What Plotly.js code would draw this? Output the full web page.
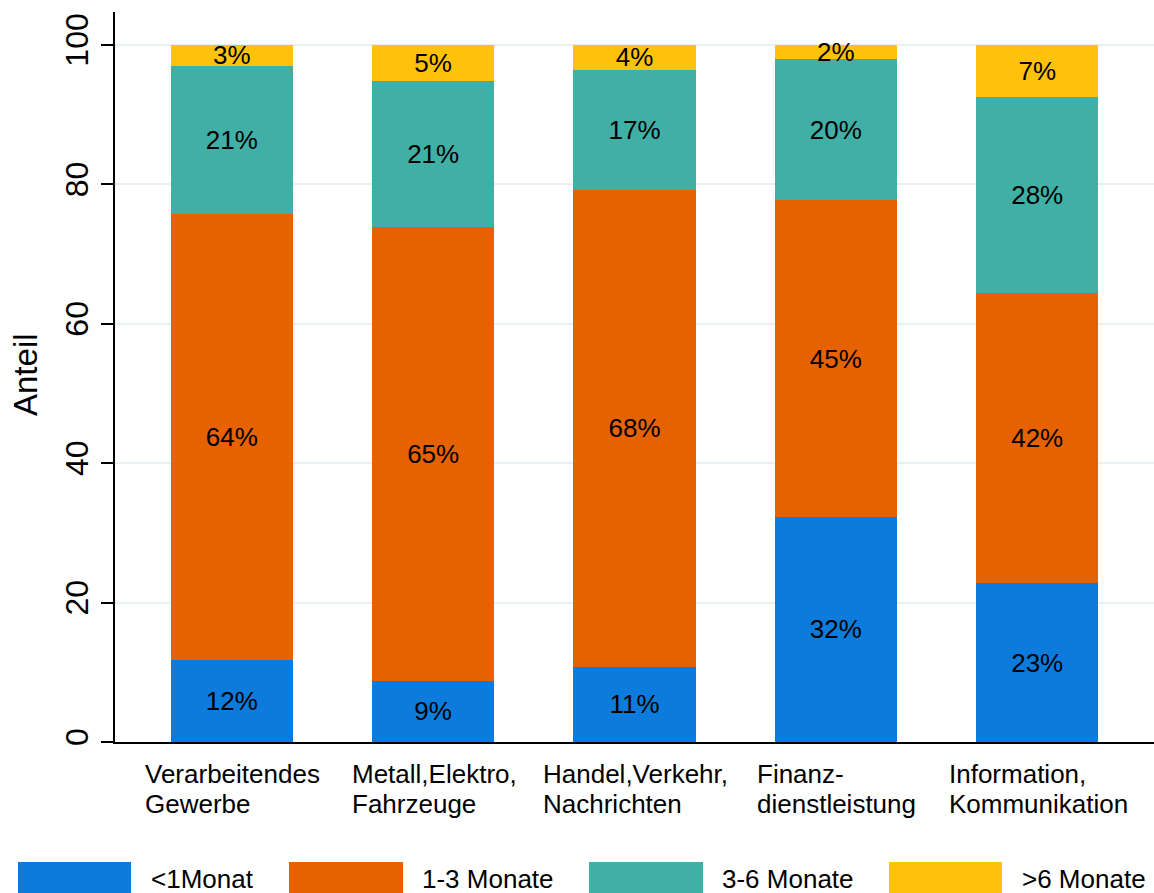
<!DOCTYPE html>
<html>
<head>
<meta charset="utf-8">
<script src="https://cdn.plot.ly/plotly-3.0.1.min.js"></script>
<style>
html,body{margin:0;padding:0;background:#fff;}
#chart{width:1154px;height:893px;}
</style>
</head>
<body>
<div id="chart"></div>
<script>
// Data
var categories = ["Verarbeitendes<br>Gewerbe", "Metall,Elektro,<br>Fahrzeuge", "Handel,Verkehr,<br>Nachrichten", "Finanz-<br>dienstleistung", "Information,<br>Kommunikation"];
var seriesNames = ["<1Monat", "1-3 Monate", "3-6 Monate", ">6 Monate"];
var lt1 = [11.7, 8.8, 10.8, 32.3, 22.8];
var m1to3 = [64.1, 65.1, 68.4, 45.4, 41.6];
var m3to6 = [21.2, 20.9, 17.2, 20.2, 28.1];
var gt6 = [3.0, 5.2, 3.6, 2.0, 7.4];
var yTicks = [0, 20, 40, 60, 80, 100];
var yTitle = "Anteil";

var colors = ["#0C7BDC", "#E66100", "#40B0A6", "#FFC20A"];
var allSeries = [lt1, m1to3, m3to6, gt6];
var FONT = "Liberation Sans, Arial, sans-serif";
var LBL = 26;

var xIdx = categories.map(function(_, i){ return i; });

var traces = allSeries.map(function(vals, s){
  return {
    type: "bar",
    name: seriesNames[s],
    x: xIdx,
    y: vals,
    width: 0.607,
    marker: {color: colors[s], line: {width: 0}},
    text: vals.map(function(v){ return Math.round(v) + "%"; }),
    textposition: "inside",
    insidetextanchor: "middle",
    constraintext: "none",
    textangle: 0,
    insidetextfont: {family: FONT, size: LBL, color: "#000"},
    hoverinfo: "skip",
    showlegend: false
  };
});

// geometry helpers (pixel -> paper) for legend and labels
var L = 115, R = 0, T = 12, B = 151, W = 1154, H = 893;
var pw = W - L - R, ph = H - T - B;
function px(x){ return (x - L) / pw; }
function py(y){ return (H - B - y) / ph; }

// measure text widths so category label lines are left-aligned in a centred block
var cv = document.createElement("canvas").getContext("2d");
cv.font = LBL + "px 'Liberation Sans'";
function tw(s){ return cv.measureText(s).width; }

var annotations = [];
categories.forEach(function(c, i){
  var lines = c.split("<br>");
  var maxW = Math.max.apply(null, lines.map(tw));
  lines.forEach(function(line, k){
    annotations.push({
      xref: "x", yref: "paper", x: i, xshift: -maxW / 2,
      y: py(774 + 30 * k),
      xanchor: "left", yanchor: "middle", align: "left",
      text: line, showarrow: false, borderpad: 0,
      font: {family: FONT, size: LBL, color: "#000"}
    });
  });
});

// y-axis title
annotations.push({
  xref: "paper", yref: "paper", x: px(25), y: py(375),
  xanchor: "center", yanchor: "middle", textangle: -90,
  text: yTitle, showarrow: false, borderpad: 0,
  font: {family: FONT, size: 33, color: "#000"}
});

var legBoxes = [[18,131],[289,403],[589,703],[889,1002]];
var legText = [150, 421, 721, 1021];
var shapes = [];
seriesNames.forEach(function(n, s){
  shapes.push({
    type: "rect", xref: "paper", yref: "paper",
    x0: px(legBoxes[s][0]), x1: px(legBoxes[s][1]),
    y0: py(862), y1: py(900),
    fillcolor: colors[s], line: {width: 0}, layer: "above"
  });
  annotations.push({
    xref: "paper", yref: "paper", x: px(legText[s]), y: py(879),
    xanchor: "left", yanchor: "middle", borderpad: 0,
    text: n.replace("<", "&lt;").replace(">", "&gt;"), showarrow: false,
    font: {family: FONT, size: LBL, color: "#000"}
  });
});

var layout = {
  width: W, height: H,
  margin: {l: L, r: R, t: T, b: B, pad: 0},
  paper_bgcolor: "#fff", plot_bgcolor: "#fff",
  barmode: "stack",
  bargap: 0,
  showlegend: false,
  hovermode: false,
  font: {family: FONT, color: "#000"},
  xaxis: {
    range: [-0.58, 4.58],
    showticklabels: false,
    ticks: "",
    showgrid: false,
    zeroline: false,
    showline: true, linecolor: "#000", linewidth: 2,
    fixedrange: true
  },
  yaxis: {
    range: [0, 104.7],
    tickvals: yTicks,
    ticktext: yTicks.map(String),
    tickangle: -90,
    ticks: "outside", ticklen: 12, tickwidth: 2, tickcolor: "#000",
    tickfont: {family: FONT, size: 32, color: "#000"},
    showgrid: true, gridcolor: "#e8f0f3", gridwidth: 2,
    zeroline: false,
    showline: true, linecolor: "#000", linewidth: 2,
    fixedrange: true
  },
  shapes: shapes,
  annotations: annotations
};

Plotly.newPlot("chart", traces, layout, {displayModeBar: false, staticPlot: true});
</script>
</body>
</html>
